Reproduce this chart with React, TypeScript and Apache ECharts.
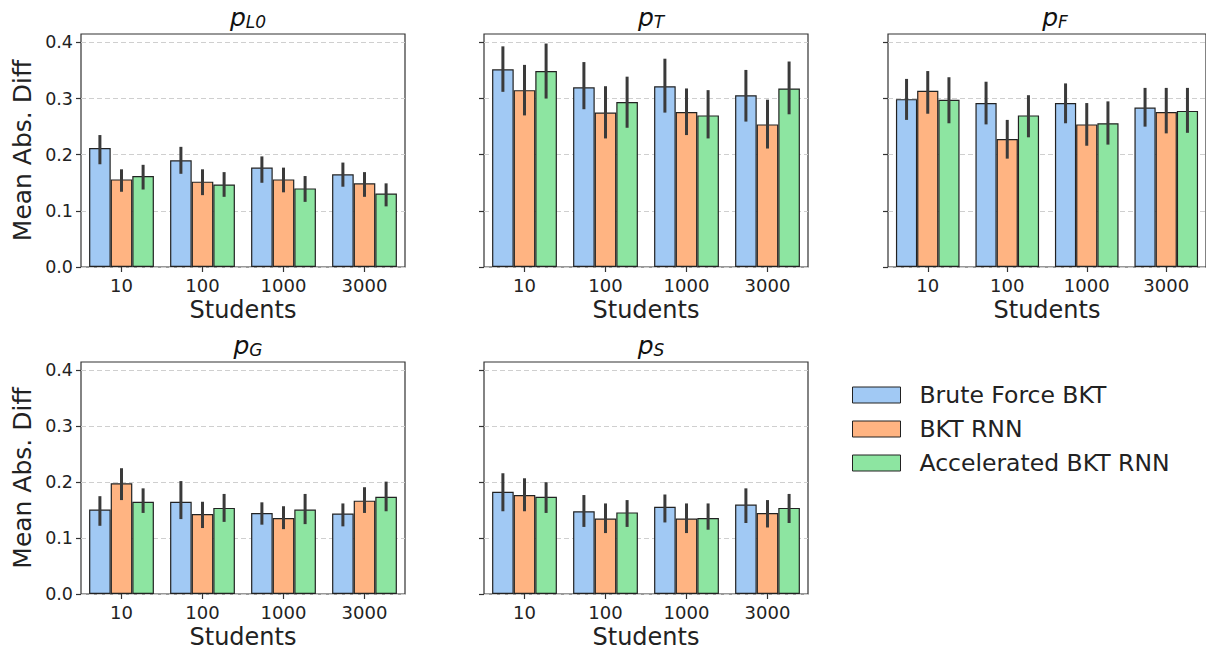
import React, { useEffect, useRef } from "react";
import * as echarts from "echarts";

// Number of students per experiment (category axis)
const students = ["10", "100", "1000", "3000"];
const methods = ["Brute Force BKT", "BKT RNN", "Accelerated BKT RNN"];
const yTicks = [0, 0.1, 0.2, 0.3, 0.4];

// Mean absolute difference, rows = method, columns = students
const pL0Mean = [
  [0.212, 0.19, 0.177, 0.165],
  [0.156, 0.152, 0.156, 0.149],
  [0.162, 0.147, 0.14, 0.131],
];
const pL0Low = [
  [0.183, 0.166, 0.15, 0.143],
  [0.134, 0.128, 0.133, 0.125],
  [0.138, 0.125, 0.116, 0.108],
];
const pL0High = [
  [0.235, 0.214, 0.197, 0.186],
  [0.174, 0.174, 0.177, 0.169],
  [0.182, 0.169, 0.162, 0.149],
];

const pTMean = [
  [0.352, 0.32, 0.322, 0.306],
  [0.315, 0.275, 0.276, 0.254],
  [0.349, 0.294, 0.27, 0.318],
];
const pTLow = [
  [0.312, 0.281, 0.275, 0.259],
  [0.27, 0.229, 0.235, 0.211],
  [0.3, 0.248, 0.229, 0.272],
];
const pTHigh = [
  [0.393, 0.365, 0.371, 0.351],
  [0.36, 0.322, 0.318, 0.298],
  [0.398, 0.339, 0.315, 0.366],
];

const pFMean = [
  [0.299, 0.292, 0.292, 0.284],
  [0.314, 0.228, 0.254, 0.276],
  [0.298, 0.27, 0.256, 0.278],
];
const pFLow = [
  [0.262, 0.254, 0.256, 0.25],
  [0.273, 0.193, 0.216, 0.238],
  [0.256, 0.231, 0.218, 0.239],
];
const pFHigh = [
  [0.335, 0.33, 0.327, 0.319],
  [0.349, 0.262, 0.292, 0.319],
  [0.338, 0.306, 0.295, 0.319],
];

const pGMean = [
  [0.151, 0.165, 0.145, 0.144],
  [0.198, 0.143, 0.136, 0.167],
  [0.165, 0.154, 0.151, 0.174],
];
const pGLow = [
  [0.122, 0.134, 0.124, 0.121],
  [0.168, 0.118, 0.116, 0.145],
  [0.145, 0.129, 0.125, 0.148],
];
const pGHigh = [
  [0.175, 0.202, 0.164, 0.162],
  [0.225, 0.165, 0.157, 0.191],
  [0.189, 0.179, 0.179, 0.201],
];

const pSMean = [
  [0.183, 0.148, 0.156, 0.16],
  [0.177, 0.135, 0.135, 0.145],
  [0.174, 0.146, 0.136, 0.154],
];
const pSLow = [
  [0.148, 0.12, 0.128, 0.127],
  [0.148, 0.109, 0.109, 0.119],
  [0.145, 0.12, 0.115, 0.127],
];
const pSHigh = [
  [0.216, 0.177, 0.178, 0.189],
  [0.207, 0.162, 0.162, 0.168],
  [0.2, 0.168, 0.162, 0.179],
];

const colors = ["#a1c9f4", "#ffb482", "#8de5a1"];
const FONT = "DejaVu Sans";

const panels = [
  { sub: "L0", mean: pL0Mean, low: pL0Low, high: pL0High, col: 0, row: 0 },
  { sub: "T", mean: pTMean, low: pTLow, high: pTHigh, col: 1, row: 0 },
  { sub: "F", mean: pFMean, low: pFLow, high: pFHigh, col: 2, row: 0 },
  { sub: "G", mean: pGMean, low: pGLow, high: pGHigh, col: 0, row: 1 },
  { sub: "S", mean: pSMean, low: pSLow, high: pSHigh, col: 1, row: 1 },
];

const colLeft = [81, 484, 888];
const rowTop = [34, 362];
const gridW = 324;
const gridH = 233;

function buildOption() {
  const grid: any[] = [];
  const xAxis: any[] = [];
  const yAxis: any[] = [];
  const series: any[] = [];
  const title: any[] = [];

  panels.forEach((p, i) => {
    const left = colLeft[p.col];
    const top = rowTop[p.row];
    grid.push({
      left,
      top,
      width: gridW,
      height: gridH,
      show: true,
      borderColor: "#333",
      borderWidth: 1.2,
      backgroundColor: "transparent",
    });
    xAxis.push({
      type: "category",
      gridIndex: i,
      data: students,
      axisLine: { show: false },
      axisTick: {
        show: true,
        alignWithLabel: true,
        length: 5,
        lineStyle: { color: "#333", width: 1.2 },
      },
      axisLabel: { fontFamily: FONT, fontSize: 18, color: "#222", margin: 9 },
      name: "Students",
      nameLocation: "middle",
      nameGap: 31,
      nameTextStyle: { fontFamily: FONT, fontSize: 24, color: "#222" },
    });
    const showLabels = p.col === 0;
    yAxis.push({
      type: "value",
      gridIndex: i,
      min: 0,
      max: 0.415,
      interval: 0.1,
      axisLine: { show: false },
      axisTick: {
        show: true,
        length: 5,
        customValues: yTicks,
        lineStyle: { color: "#333", width: 1.2 },
      },
      axisLabel: {
        show: showLabels,
        customValues: yTicks,
        formatter: (v: number) => v.toFixed(1),
        fontFamily: FONT,
        fontSize: 17.5,
        color: "#222",
        margin: 8,
      },
      splitLine: {
        show: true,
        lineStyle: { color: "#cfcfcf", type: [5, 3], width: 1 },
      },
      name: showLabels ? "Mean Abs. Diff" : "",
      nameLocation: "middle",
      nameGap: 46,
      nameTextStyle: { fontFamily: FONT, fontSize: 25, color: "#222" },
    });
    title.push({
      text: `{p|p}{s|${p.sub}}`,
      left: left + gridW / 2,
      top: top - 34,
      textAlign: "center",
      textStyle: {
        fontWeight: "normal",
        rich: {
          p: {
            fontFamily: FONT,
            fontSize: 25,
            fontStyle: "italic",
            fontWeight: "normal",
            color: "#111",
            verticalAlign: "bottom",
          },
          s: {
            fontFamily: FONT,
            fontSize: 17,
            fontStyle: "italic",
            fontWeight: "normal",
            color: "#111",
            verticalAlign: "bottom",
            padding: [8, 0, 0, 0],
          },
        },
      },
    });

    methods.forEach((m, h) => {
      series.push({
        type: "bar",
        name: m,
        xAxisIndex: i,
        yAxisIndex: i,
        data: p.mean[h],
        barGap: "0%",
        barCategoryGap: "20%",
        itemStyle: { color: colors[h], borderColor: "#222", borderWidth: 1.2 },
        z: 2,
      });
    });
    methods.forEach((m, h) => {
      series.push({
        type: "custom",
        xAxisIndex: i,
        yAxisIndex: i,
        z: 5,
        data: students.map((_, c) => [c, p.low[h][c], p.high[h][c]]),
        encode: { x: 0, y: [1, 2] },
        renderItem: (params: any, api: any) => {
          const c = api.value(0);
          const lo = api.coord([c, api.value(1)]);
          const hi = api.coord([c, api.value(2)]);
          const band = api.size([1, 0])[0];
          const bw = (band * 0.8) / 3;
          const x = lo[0] + (h - 1) * bw;
          return {
            type: "line",
            shape: { x1: x, y1: lo[1], x2: x, y2: hi[1] },
            style: { stroke: "#3a3a3a", lineWidth: 3 },
          };
        },
      });
    });
  });

  return {
    animation: false,
    backgroundColor: "#ffffff",
    textStyle: { fontFamily: FONT },
    title,
    grid,
    xAxis,
    yAxis,
    series,
    legend: {
      data: methods,
      orient: "vertical",
      left: 847,
      top: 378,
      itemWidth: 48,
      itemHeight: 16,
      itemGap: 10,
      icon: "rect",
      itemStyle: { borderColor: "#222", borderWidth: 1 },
      textStyle: { fontFamily: FONT, fontSize: 23.5, color: "#222", padding: [0, 0, 0, 14] },
    },
  };
}

export default function App() {
  const ref = useRef<HTMLDivElement>(null);
  useEffect(() => {
    if (!ref.current) return;
    const chart = echarts.init(ref.current, undefined, { renderer: "svg" });
    chart.setOption(buildOption() as any);
    return () => chart.dispose();
  }, []);
  return (
    <div
      ref={ref}
      style={{ position: "fixed", left: 0, top: 0, width: 1206, height: 650 }}
    />
  );
}
